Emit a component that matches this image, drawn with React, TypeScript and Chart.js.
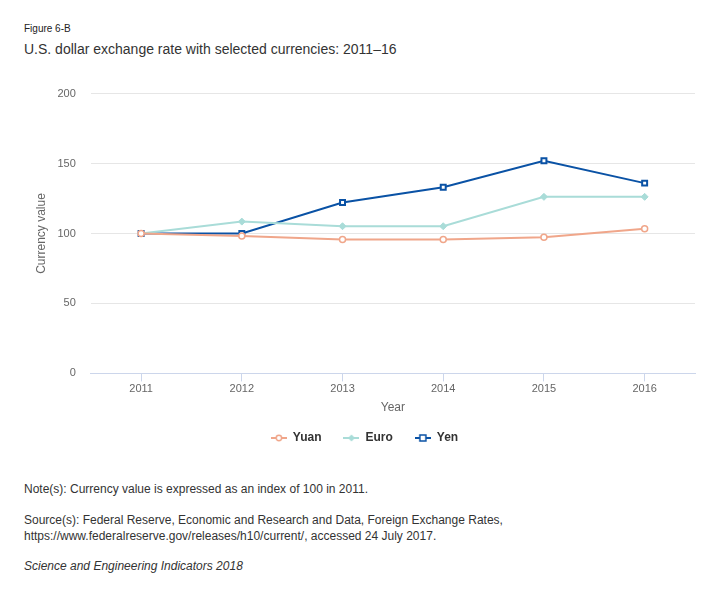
import React, { useEffect, useRef } from "react";
import { Chart, registerables } from "chart.js";

Chart.register(...registerables);

const years = ["2011", "2012", "2013", "2014", "2015", "2016"];
const yuan = [100, 98.3, 95.8, 95.8, 97.3, 103.4];
const euro = [100, 108.5, 105.2, 105.2, 126.2, 126.2];
const yen = [100, 100, 122.2, 133, 152, 136];
const yTicks = [0, 50, 100, 150, 200];

const YUAN_C = "#f0a68a";
const EURO_C = "#a9dcd8";
const YEN_C = "#0a52a5";
const FONT = "'Liberation Sans', Arial, Helvetica, sans-serif";

function legendIcon(color: string, kind: string): HTMLCanvasElement {
  const c = document.createElement("canvas");
  c.width = 16;
  c.height = 10;
  const ctx = c.getContext("2d")!;
  ctx.strokeStyle = color;
  ctx.lineWidth = 2;
  ctx.beginPath();
  ctx.moveTo(0, 5);
  ctx.lineTo(16, 5);
  ctx.stroke();
  ctx.lineWidth = 1.5;
  if (kind === "circle") {
    ctx.fillStyle = "#ffffff";
    ctx.beginPath();
    ctx.arc(8, 5, 2.7, 0, Math.PI * 2);
    ctx.fill();
    ctx.stroke();
  } else if (kind === "diamond") {
    ctx.fillStyle = color;
    ctx.beginPath();
    ctx.moveTo(8, 1.5);
    ctx.lineTo(11.5, 5);
    ctx.lineTo(8, 8.5);
    ctx.lineTo(4.5, 5);
    ctx.closePath();
    ctx.fill();
  } else {
    ctx.fillStyle = "#ffffff";
    ctx.fillRect(5, 2, 6, 6);
    ctx.strokeRect(5, 2, 6, 6);
  }
  return c;
}

export default function App() {
  const ref = useRef<HTMLCanvasElement | null>(null);

  useEffect(() => {
    if (!ref.current) return;
    const icons = [
      legendIcon(YUAN_C, "circle"),
      legendIcon(EURO_C, "diamond"),
      legendIcon(YEN_C, "rect"),
    ];
    const chart = new Chart(ref.current, {
      type: "line",
      data: {
        labels: years,
        datasets: [
          {
            label: "Yuan",
            data: yuan,
            borderColor: YUAN_C,
            backgroundColor: "#ffffff",
            borderWidth: 2,
            pointStyle: "circle",
            pointRadius: 3,
            pointBorderWidth: 1.5,
            pointBackgroundColor: "#ffffff",
            pointBorderColor: YUAN_C,
          },
          {
            label: "Euro",
            data: euro,
            borderColor: EURO_C,
            backgroundColor: EURO_C,
            borderWidth: 2,
            pointStyle: "rectRot",
            pointRadius: 3.5,
            pointBorderWidth: 1,
            pointBackgroundColor: EURO_C,
            pointBorderColor: EURO_C,
          },
          {
            label: "Yen",
            data: yen,
            borderColor: YEN_C,
            backgroundColor: "#ffffff",
            borderWidth: 2,
            pointStyle: "rect",
            pointRadius: 3.5,
            pointBorderWidth: 2,
            pointBackgroundColor: "#ffffff",
            pointBorderColor: YEN_C,
          },
        ],
      },
      options: {
        animation: false,
        responsive: false,
        maintainAspectRatio: false,
        layout: { padding: { top: 5, right: 29, left: 34, bottom: 8 } },
        plugins: {
          tooltip: { enabled: false },
          legend: {
            position: "bottom",
            labels: {
              usePointStyle: true,
              pointStyleWidth: 16,
              padding: 22,
              color: "#333333",
              font: { family: FONT, size: 12, weight: "bold" },
              generateLabels: (ch: any) =>
                ch.data.datasets.map((ds: any, i: number) => ({
                  text: ds.label,
                  pointStyle: icons[i],
                  fillStyle: ds.borderColor,
                  strokeStyle: ds.borderColor,
                  lineWidth: 0,
                  hidden: false,
                  datasetIndex: i,
                  fontColor: "#333333",
                })),
            },
          },
        },
        scales: {
          x: {
            type: "category",
            offset: true,
            grid: {
              drawOnChartArea: false,
              drawTicks: true,
              tickLength: 8,
              color: "#ccd6eb",
            },
            border: { color: "#ccd6eb", width: 1 },
            ticks: {
              color: "#666666",
              font: { family: FONT, size: 11 },
              padding: 1,
              maxRotation: 0,
            },
            title: {
              display: true,
              text: "Year",
              color: "#666666",
              font: { family: FONT, size: 12 },
              padding: { top: 4, bottom: -5 },
            },
          },
          y: {
            min: 0,
            max: 200,
            afterBuildTicks: (s: any) => {
              s.ticks = yTicks.map((v) => ({ value: v }));
            },
            grid: { color: "#e6e6e6", drawTicks: false },
            border: { display: false },
            ticks: {
              color: "#666666",
              font: { family: FONT, size: 11 },
              padding: 15,
            },
            title: {
              display: true,
              text: "Currency value",
              color: "#666666",
              font: { family: FONT, size: 12 },
              padding: { top: 0, bottom: -6 },
            },
          },
        },
      },
    } as any);
    return () => chart.destroy();
  }, []);

  return (
    <div
      style={{
        position: "absolute",
        left: 0,
        top: 0,
        width: 724,
        height: 598,
        background: "#ffffff",
        fontFamily: FONT,
        color: "#333333",
      }}
    >
      <div style={{ position: "absolute", left: 24, top: 23, fontSize: 10, color: "#222" }}>
        Figure 6-B
      </div>
      <div style={{ position: "absolute", left: 24, top: 41, fontSize: 14, color: "#333" }}>
        U.S. dollar exchange rate with selected currencies: 2011–16
      </div>
      <canvas
        ref={ref}
        width={724}
        height={390}
        style={{ position: "absolute", left: 0, top: 72, width: 724, height: 390 }}
      />
      <div style={{ position: "absolute", left: 24, top: 482, fontSize: 12, color: "#333" }}>
        Note(s): Currency value is expressed as an index of 100 in 2011.
      </div>
      <div
        style={{
          position: "absolute",
          left: 24,
          top: 512,
          fontSize: 12,
          lineHeight: "16px",
          color: "#333",
        }}
      >
        Source(s): Federal Reserve, Economic and Research and Data, Foreign Exchange Rates,
        <br />
        https://www.federalreserve.gov/releases/h10/current/, accessed 24 July 2017.
      </div>
      <div
        style={{
          position: "absolute",
          left: 24,
          top: 559,
          fontSize: 12,
          fontStyle: "italic",
          color: "#333",
        }}
      >
        Science and Engineering Indicators 2018
      </div>
    </div>
  );
}
